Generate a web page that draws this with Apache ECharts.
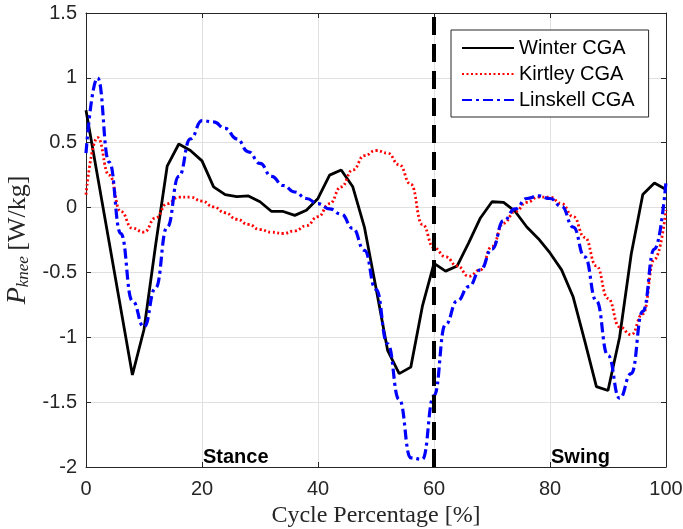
<!DOCTYPE html>
<html>
<head>
<meta charset="utf-8">
<script src="https://cdn.jsdelivr.net/npm/echarts@6/dist/echarts.min.js"></script>
<style>html,body{margin:0;padding:0;background:#fff;}#c{width:683px;height:529px;}</style>
</head>
<body>
<div id="c"></div>
<script>
const cycle = [0,2,4,6,8,10,12,14,16,18,20,22,24,26,28,30,32,34,36,38,40,42,44,46,48,50,52,54,56,58,60,62,64,66,68,70,72,74,76,78,80,82,84,86,88,90,92,94,96,98,100];
const winter = [0.75,0.24,-0.27,-0.78,-1.29,-0.94,-0.29,0.32,0.49,0.44,0.36,0.16,0.10,0.085,0.09,0.045,-0.03,-0.03,-0.06,-0.02,0.07,0.25,0.29,0.16,-0.15,-0.62,-1.1,-1.28,-1.23,-0.76,-0.43,-0.49,-0.45,-0.27,-0.08,0.045,0.04,-0.03,-0.15,-0.24,-0.35,-0.48,-0.69,-1.03,-1.38,-1.41,-1.0,-0.36,0.10,0.19,0.14];
const kirtley = [0.1,0.54,0.25,-0.03,-0.16,-0.19,-0.08,0.03,0.08,0.08,0.05,0.005,-0.04,-0.09,-0.13,-0.17,-0.19,-0.2,-0.18,-0.14,-0.07,0.03,0.16,0.29,0.40,0.44,0.42,0.33,0.18,-0.13,-0.31,-0.38,-0.45,-0.53,-0.48,-0.3,-0.12,-0.03,0.04,0.08,0.08,0.03,-0.07,-0.23,-0.45,-0.7,-0.92,-0.98,-0.82,-0.40,-0.02];
const linskell = [0.42,1.0,0.35,-0.2,-0.72,-0.92,-0.62,-0.15,0.24,0.53,0.67,0.66,0.61,0.53,0.43,0.34,0.24,0.17,0.12,0.07,0.03,-0.01,-0.05,-0.16,-0.33,-0.63,-1.05,-1.48,-1.93,-1.94,-1.45,-0.9,-0.72,-0.61,-0.48,-0.32,-0.1,-0.01,0.07,0.09,0.07,0.01,-0.15,-0.38,-0.72,-1.14,-1.47,-1.28,-0.8,-0.32,0.2];
const seriesNames = ['Winter CGA','Kirtley CGA','Linskell CGA'];
const phaseLabels = [{x:20, text:'Stance'},{x:80, text:'Swing'}];
const phaseBoundary = 60;

const pair = (ys) => cycle.map((x,i)=>[x, ys[i]]);
const chart = echarts.init(document.getElementById('c'));
const axisCol = '#262626';
const tickFont = {color: axisCol, fontSize: 20, fontFamily: 'Liberation Sans, Arial, sans-serif'};

chart.setOption({
  animation: false,
  backgroundColor: '#fff',
  grid: {left: 86, right: 17, top: 13, bottom: 62, containLabel: false, outerBoundsMode: 'none'},
  legend: {
    data: seriesNames,
    orient: 'vertical',
    left: 451, top: 30,
    padding: [8, 14, 7, 10],
    itemWidth: 52, itemHeight: 14, itemGap: 6,
    itemStyle: {opacity: 0},
    backgroundColor: '#fff',
    borderColor: axisCol, borderWidth: 1, borderRadius: 0,
    textStyle: {color: '#000', fontSize: 20, fontFamily: 'Liberation Sans, Arial, sans-serif', lineHeight: 20}
  },
  xAxis: [{
    type: 'value', min: 0, max: 100, interval: 20,
    name: 'Cycle Percentage [%]', nameLocation: 'middle', nameGap: 37,
    nameTextStyle: {color: axisCol, fontSize: 24, fontFamily: 'Liberation Serif, serif'},
    axisLine: {show: true, onZero: false, lineStyle: {color: axisCol, width: 1}},
    axisTick: {show: true, inside: true, length: 5, lineStyle: {color: axisCol}},
    axisLabel: Object.assign({margin: 12}, tickFont),
    splitLine: {show: true, lineStyle: {color: '#e0e0e0', width: 1}}
  },{
    type: 'value', min: 0, max: 100, interval: 20, position: 'top',
    axisLine: {show: true, onZero: false, lineStyle: {color: axisCol, width: 1}},
    axisTick: {show: true, inside: true, length: 5, lineStyle: {color: axisCol}},
    axisLabel: {show: false}, splitLine: {show: false}
  }],
  yAxis: [{
    type: 'value', min: -2, max: 1.5, interval: 0.5,
    name: '{p|P}{s|knee} {n|[W/kg]}', nameLocation: 'middle', nameGap: 52,
    nameTextStyle: {
      color: axisCol,
      rich: {
        p: {fontSize: 28, fontStyle: 'italic', fontFamily: 'Liberation Serif, serif', color: axisCol, verticalAlign: 'bottom'},
        s: {fontSize: 17, fontStyle: 'italic', fontFamily: 'Liberation Serif, serif', color: axisCol, verticalAlign: 'bottom', padding: [0,2,0,0]},
        n: {fontSize: 26, fontFamily: 'Liberation Serif, serif', color: axisCol, verticalAlign: 'bottom'}
      }
    },
    axisLine: {show: true, onZero: false, lineStyle: {color: axisCol, width: 1}},
    axisTick: {show: true, inside: true, length: 5, lineStyle: {color: axisCol}},
    axisLabel: Object.assign({margin: 9}, tickFont),
    splitLine: {show: true, lineStyle: {color: '#e0e0e0', width: 1}}
  },{
    type: 'value', min: -2, max: 1.5, interval: 0.5, position: 'right',
    axisLine: {show: true, onZero: false, lineStyle: {color: axisCol, width: 1}},
    axisTick: {show: true, inside: true, length: 5, lineStyle: {color: axisCol}},
    axisLabel: {show: false}, splitLine: {show: false}
  }],
  series: [
    {name: seriesNames[0], type: 'line', data: pair(winter), symbol: 'none', smooth: false,
     lineStyle: {color: '#000', width: 2.8, type: 'solid'}, itemStyle: {color: '#000'}, z: 3},
    {name: seriesNames[1], type: 'line', data: pair(kirtley), symbol: 'none', smooth: true, smoothMonotone: 'x',
     lineStyle: {color: '#ff0000', width: 2.8, type: [2, 2.5]}, itemStyle: {color: '#ff0000'}, z: 3},
    {name: seriesNames[2], type: 'line', data: pair(linskell), symbol: 'none', smooth: true, smoothMonotone: 'x',
     lineStyle: {color: '#0000ff', width: 3.2, type: [10, 4, 3, 4]}, itemStyle: {color: '#0000ff'}, z: 3},
    {name: 'phase', type: 'line', data: [], symbol: 'none', z: 5,
     markLine: {silent: true, symbol: 'none', animation: false,
       label: {show: false},
       lineStyle: {color: '#000', width: 4, type: [18, 9]},
       data: [{xAxis: phaseBoundary}]},
     markPoint: {silent: true, symbol: 'rect', symbolSize: 0,
       label: {show: true, position: [0, 0], align: 'left', verticalAlign: 'bottom', offset: [1, 0],
         color: '#000', fontSize: 20, fontWeight: 'bold', fontFamily: 'Liberation Sans, Arial, sans-serif'},
       data: phaseLabels.map(p => ({coord: [p.x, -2], value: p.text, label: {formatter: p.text}}))}
    }
  ]
});
</script>
</body>
</html>
